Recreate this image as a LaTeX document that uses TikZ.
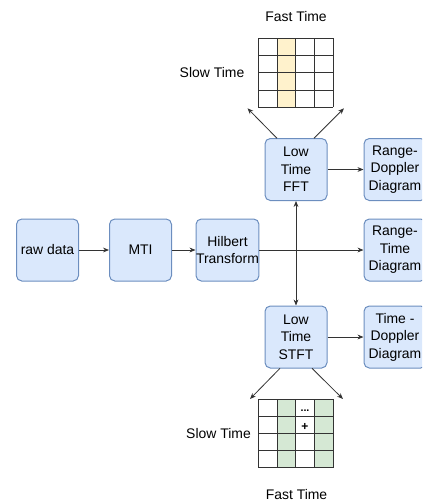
\documentclass[tikz,border=0pt]{standalone}
\usepackage{fontspec}
\setmainfont{Liberation Sans}
\usetikzlibrary{arrows.meta}
\definecolor{boxfill}{HTML}{DAE8FC}
\definecolor{boxline}{HTML}{6C8EBF}
\definecolor{fastcol}{HTML}{FFF2CC}
\definecolor{slowcol}{HTML}{D5E8D4}
\definecolor{wire}{HTML}{333333}
\tikzset{
  block/.style={draw=boxline, fill=boxfill, rounded corners=4pt, line width=0.75pt,
    minimum width=46.5pt, minimum height=46.5pt, align=center, inner sep=0pt,
    font=\fontsize{10.45pt}{13.1pt}\selectfont},
  link/.style={draw=wire, line width=0.6pt, -{Stealth[length=4.5pt,width=3.6pt]}},
  lbl/.style={font=\fontsize{10.45pt}{13pt}\selectfont, inner sep=0pt},
  cell/.style={draw=wire, line width=0.6pt},
}
\begin{document}
\begin{tikzpicture}[x=0.75pt,y=-0.75pt]
\useasboundingbox (0,0) rectangle (422,504);
\begin{scope}
\clip (0,0) rectangle (422,504);

% processing chain
\node[block] (raw)  at (47.5,250)  {raw data};
\node[block] (mti)  at (140.5,250) {MTI};
\node[block] (hil)  at (227.5,250) {Hilbert\\Transform};
\node[block] (fft)  at (296,169.5) {Low\\Time\\FFT};
\node[block] (stft) at (296,337)   {Low\\Time\\STFT};
\node[block] (rd)   at (395,169.5) {Range-\\Doppler\\Diagram};
\node[block] (rt)   at (395,250)   {Range-\\Time\\Diagram};
\node[block] (td)   at (395,337)   {Time -\\Doppler\\Diagram};

\draw[link] (raw) -- (mti);
\draw[link] (mti) -- (hil);
\draw[link] (hil) -- (rt);
\draw[link] (hil.east) -| (fft.south);
\draw[link] (hil.east) -| (stft.north);
\draw[link] (fft) -- (rd);
\draw[link] (stft) -- (td);

% FFT output matrix (one fast-time bin highlighted)
\fill[fastcol] (277.05,38.3) rectangle (295.8,107.3);
\foreach \i in {0,...,4} {
  \draw[cell] (258.3+18.75*\i,38.3) -- (258.3+18.75*\i,107.3);
  \draw[cell] (258.3,38.3+17.25*\i) -- (333.3,38.3+17.25*\i);
}
\node[lbl] (ftTop) at (296,17)   {Fast Time};
\node[lbl] (stTop) at (212,72.7) {Slow Time};
\coordinate (fftA) at (277,138.3);
\coordinate (fftB) at (314,138.3);
\coordinate (topL) at (247.5,108.3);
\coordinate (topR) at (344,108.3);
\draw[link] (fftA) -- (topL);
\draw[link] (fftB) -- (topR);

% STFT output matrix (alternate fast-time bins highlighted)
\fill[slowcol] (277.05,399.3) rectangle (295.8,467.7);
\fill[slowcol] (314.55,399.3) rectangle (333.3,467.7);
\foreach \i in {0,...,4} {
  \draw[cell] (258.3+18.75*\i,399.3) -- (258.3+18.75*\i,467.7);
  \draw[cell] (258.3,399.3+17.1*\i) -- (333.3,399.3+17.1*\i);
}
\node[lbl, font=\fontsize{8pt}{9pt}\selectfont\bfseries] (dots) at (305,410.5) {...};
\node[lbl, font=\fontsize{9pt}{10pt}\selectfont\bfseries] (plus) at (305,426.5) {+};
\node[lbl] (stBot) at (218.5,433.3) {Slow Time};
\node[lbl] (ftBot) at (296.5,495)   {Fast Time};
\coordinate (stftA) at (280,368.3);
\coordinate (stftB) at (312,368.3);
\coordinate (botL) at (250,399);
\coordinate (botR) at (343,399);
\draw[link] (stftA) -- (botL);
\draw[link] (stftB) -- (botR);
\end{scope}
\end{tikzpicture}
\end{document}
